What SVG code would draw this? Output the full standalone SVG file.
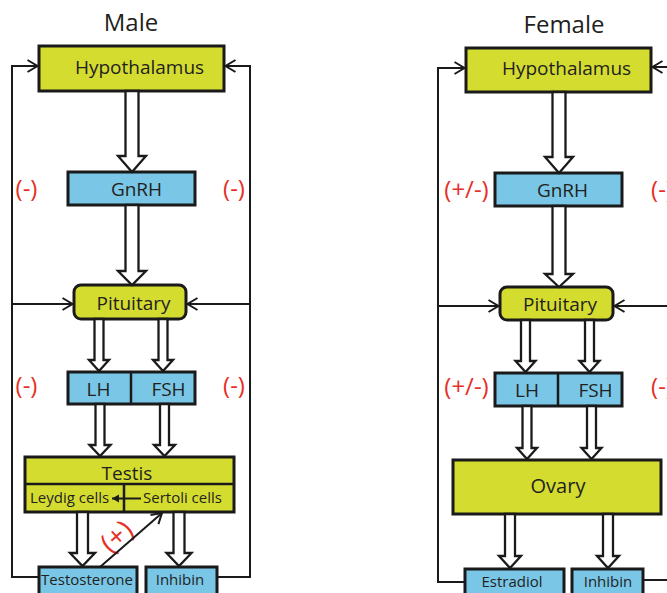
<svg xmlns="http://www.w3.org/2000/svg" width="667" height="593" viewBox="0 0 667 593">
<defs>
<style>
.y{fill:#d5dc30;stroke:#1a1a1a;stroke-width:3}
.b{fill:#79c6e7;stroke:#1a1a1a;stroke-width:3}
.dv{stroke:#1a1a1a;stroke-width:2.5;fill:none}
.ha{fill:#fff;stroke:#1a1a1a;stroke-width:2.3;stroke-linejoin:miter}
.fb{fill:none;stroke:#1a1a1a;stroke-width:2}
.t{font-family:"Open Sans","Noto Sans",sans-serif;fill:#231f20;text-anchor:middle}
.ts{font-family:"Open Sans","Noto Sans",sans-serif;fill:#231f20}
.r{font-family:"Open Sans","Noto Sans",sans-serif;fill:#e63027;text-anchor:middle;font-size:24px}
</style>
<marker id="chev" markerUnits="userSpaceOnUse" markerWidth="14" markerHeight="16" refX="11" refY="7" orient="auto">
<path d="M1,1 L11,7 L1,13" fill="none" stroke="#1a1a1a" stroke-width="2"/>
</marker>
<marker id="tri" markerUnits="userSpaceOnUse" markerWidth="10" markerHeight="10" refX="7" refY="4" orient="auto">
<path d="M0,0 L7,4 L0,8 Z" fill="#1a1a1a"/>
</marker>
</defs>
<rect width="667" height="593" fill="#fff"/>

<text class="t" x="131" y="31" font-size="24">Male</text>
<text class="t" x="564" y="33" font-size="24">Female</text>

<!-- male nodes -->
<g id="m-hypothalamus">
<rect class="y" x="39" y="46" width="185" height="45"/>
<text class="t" x="139.5" y="74" font-size="19">Hypothalamus</text>
</g>
<g id="m-gnrh">
<rect class="b" x="68" y="172" width="127" height="33"/>
<text class="t" x="136.5" y="196" font-size="19">GnRH</text>
</g>
<g id="m-pituitary">
<rect class="y" x="74" y="285" width="112" height="34" rx="7"/>
<text class="t" x="133.5" y="310" font-size="19">Pituitary</text>
</g>
<g id="m-lhfsh">
<rect class="b" x="68" y="372" width="127" height="32"/>
<line class="dv" x1="131" y1="372" x2="131" y2="404"/>
<text class="t" x="98.5" y="396" font-size="19">LH</text>
<text class="t" x="168.5" y="396" font-size="19">FSH</text>
</g>
<g id="m-testis">
<rect class="y" x="25" y="457" width="209" height="55"/>
<line class="dv" x1="25" y1="484" x2="234" y2="484"/>
<line class="dv" x1="124" y1="484" x2="124" y2="512"/>
<text class="t" x="127" y="480" font-size="19">Testis</text>
<text class="ts" x="30" y="503" font-size="15">Leydig cells</text>
<text class="ts" x="143" y="503" font-size="15">Sertoli cells</text>
</g>
<g id="m-testosterone">
<rect class="b" x="39" y="567" width="98" height="30"/>
<text class="t" x="87" y="585" font-size="15">Testosterone</text>
</g>
<g id="m-inhibin">
<rect class="b" x="146" y="567" width="71" height="30"/>
<text class="t" x="180" y="585" font-size="15">Inhibin</text>
</g>
<g id="m-labels">
<text class="r" x="26.5" y="197">(-)</text>
<text class="r" x="234" y="197">(-)</text>
<text class="r" x="26.5" y="394">(-)</text>
<text class="r" x="234" y="394">(-)</text>
<text class="r" x="117" y="546" style="font-size:28px" transform="rotate(-42 117 537)">(+)</text>
</g>

<!-- female nodes -->
<g id="f-hypothalamus">
<rect class="y" x="466" y="48" width="185" height="44"/>
<text class="t" x="566.5" y="75" font-size="19">Hypothalamus</text>
</g>
<g id="f-gnrh">
<rect class="b" x="495" y="173" width="127" height="33"/>
<text class="t" x="562.5" y="197" font-size="19">GnRH</text>
</g>
<g id="f-pituitary">
<rect class="y" x="500" y="287" width="113" height="33" rx="7"/>
<text class="t" x="560" y="311" font-size="19">Pituitary</text>
</g>
<g id="f-lhfsh">
<rect class="b" x="495" y="373" width="127" height="33"/>
<line class="dv" x1="558" y1="373" x2="558" y2="406"/>
<text class="t" x="527" y="397" font-size="19">LH</text>
<text class="t" x="595.5" y="397" font-size="19">FSH</text>
</g>
<g id="f-ovary">
<rect class="y" x="453" y="460" width="208" height="54"/>
<text class="t" x="558" y="493" font-size="20">Ovary</text>
</g>
<g id="f-estradiol">
<rect class="b" x="465" y="569" width="99" height="28"/>
<text class="t" x="512" y="587" font-size="15">Estradiol</text>
</g>
<g id="f-inhibin">
<rect class="b" x="572" y="569" width="71" height="28"/>
<text class="t" x="608" y="587" font-size="15">Inhibin</text>
</g>
<g id="f-labels">
<text class="r" x="466.5" y="198">(+/-)</text>
<text class="r" x="662" y="198">(-)</text>
<text class="r" x="466.5" y="395">(+/-)</text>
<text class="r" x="662" y="395">(-)</text>
</g>

<g id="connectors">
<!-- male feedback -->
<path class="fb" d="M39,577 L12,577 L12,66 L37.5,66" marker-end="url(#chev)"/>
<path class="fb" d="M12,304 L72.5,304" marker-end="url(#chev)"/>
<path class="fb" d="M217,577 L250,577 L250,66 L225.5,66" marker-end="url(#chev)"/>
<path class="fb" d="M250,304 L187.5,304" marker-end="url(#chev)"/>
<path class="fb" d="M100,567 L162,513" marker-end="url(#chev)"/>
<path class="fb" d="M141,498.5 L112,498.5" stroke-width="2.5" marker-end="url(#tri)"/>
<!-- male hollow arrows -->
<polygon class="ha" points="125.5,91 125.5,156 118,156 132,172 146,156 138.5,156 138.5,91"/>
<polygon class="ha" points="125.5,205 125.5,271 118,271 132,285 146,271 138.5,271 138.5,205"/>
<polygon class="ha" points="94.5,319 94.5,360 89,360 99,371 109,360 103.5,360 103.5,319"/>
<polygon class="ha" points="158.5,319 158.5,360 153,360 163,371 173,360 167.5,360 167.5,319"/>
<polygon class="ha" points="95.5,404 95.5,445 89.5,445 100,456 110.5,445 104.5,445 104.5,404"/>
<polygon class="ha" points="160,404 160,445 154,445 164.5,456 175,445 169,445 169,404"/>
<polygon class="ha" points="77,512 77,553 70,553 82.5,566 95,553 88,553 88,512"/>
<polygon class="ha" points="173.5,512 173.5,553 166.5,553 179,566 191.5,553 184.5,553 184.5,512"/>
<!-- female feedback -->
<path class="fb" d="M465,582 L438,582 L438,68 L464.5,68" marker-end="url(#chev)"/>
<path class="fb" d="M438,306 L498.5,306" marker-end="url(#chev)"/>
<path class="fb" d="M643,580 L677,580 L677,67 L652.5,67" marker-end="url(#chev)"/>
<path class="fb" d="M677,306 L614.5,306" marker-end="url(#chev)"/>
<!-- female hollow arrows -->
<polygon class="ha" points="552.5,92 552.5,157 545,157 559,173 573,157 565.5,157 565.5,92"/>
<polygon class="ha" points="552.5,206 552.5,274 545,274 559,287 573,274 565.5,274 565.5,206"/>
<polygon class="ha" points="521,320 521,361 515.5,361 525.5,372 535.5,361 530,361 530,320"/>
<polygon class="ha" points="585,320 585,361 579.5,361 589.5,372 599.5,361 594,361 594,320"/>
<polygon class="ha" points="522.5,406 522.5,448 517,448 527,459 537,448 531.5,448 531.5,406"/>
<polygon class="ha" points="587,406 587,448 581.5,448 591.5,459 601.5,448 596,448 596,406"/>
<polygon class="ha" points="505,514 505,556 499,556 510,568 521,556 515,556 515,514"/>
<polygon class="ha" points="603,514 603,556 597,556 608,568 619,556 613,556 613,514"/>
</g>
</svg>
